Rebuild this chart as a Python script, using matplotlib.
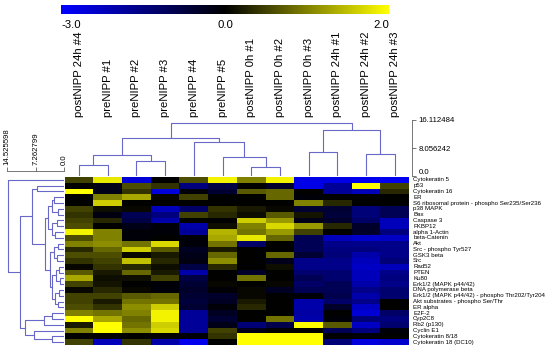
import matplotlib.pyplot as plt
import numpy as np
from matplotlib import transforms
from matplotlib.colors import LinearSegmentedColormap, TwoSlopeNorm

plt.rcParams['font.family'] = ['Liberation Sans', 'DejaVu Sans']

samples = ['postNIPP 24h #4', 'preNIPP #1', 'preNIPP #2', 'preNIPP #3', 'preNIPP #4',
           'preNIPP #5', 'postNIPP 0h #1', 'postNIPP 0h #2', 'postNIPP 0h #3',
           'postNIPP 24h #1', 'postNIPP 24h #2', 'postNIPP 24h #3']

proteins = ['Cytokeratin 5', 'p53', 'Cytokeratin 16', 'ER',
            'S6 ribosomal protein - phospho Ser235/Ser236', 'p38 MAPK', 'Bax',
            'Caspase 3', 'FKBP12', 'alpha 1-Actin', 'beta-Catenin', 'Akt',
            'Src - phospho Tyr527', 'GSK3 beta', 'Src', 'Rad52', 'PTEN', 'Ku80',
            'Erk1/2 (MAPK p44/42)', 'DNA polymerase beta',
            'Erk1/2 (MAPK p44/42) - phospho Thr202/Tyr204',
            'Akt substrates - phospho Ser/Thr', 'ER alpha', 'E2F-2', 'Cyp2C8',
            'Rb2 (p130)', 'Cyclin E1', 'Cytokeratin 8/18', 'Cytokeratin 18 (DC10)']

# log ratios, one row per protein, one column per sample
values = np.array([
    [0.5, 1.8, -2.5, 0.0, 0.6, 1.9, 1.0, 1.9, -2.7, -2.7, -2.8, -2.8],
    [0.0, -0.3, 0.6, 0.4, -1.5, -0.8, 0.0, -0.5, -2.7, -1.8, 2.0, 0.5],
    [2.0, -0.3, 0.4, -2.6, -0.1, -0.6, 0.7, 0.8, 0.0, -1.8, -2.2, 0.3],
    [0.0, 1.0, 1.3, 0.05, 0.5, 0.0, 0.0, 0.8, -0.1, 0.0, 0.0, 0.0],
    [0.0, 1.6, 0.0, 0.0, 0.0, 0.0, 0.0, 0.0, 1.0, 0.3, 0.0, 0.0],
    [0.5, 0.1, 0.05, -2.2, -1.2, 0.4, 0.2, 0.05, -0.6, -0.6, -1.4, -1.0],
    [0.4, -0.2, -1.0, -1.5, 0.5, 0.3, 0.1, 0.7, 0.15, -0.7, -1.4, -1.0],
    [0.5, 0.3, -0.8, -2.0, 0.0, 0.0, 1.6, 1.2, -0.3, -0.5, -1.2, -2.2],
    [0.6, 0.0, -0.3, -0.1, -2.0, 0.1, 1.0, 1.7, 1.2, 0.3, -0.5, -2.2],
    [1.9, 1.0, -0.1, -0.1, -1.8, 1.4, 0.9, 1.2, 0.5, 0.0, -0.5, -1.5],
    [0.6, 1.0, -0.1, 0.0, -0.1, 1.3, 1.8, 0.8, -1.0, -2.2, -2.4, -2.3],
    [1.0, 1.1, 0.9, 1.7, -0.1, 0.9, -1.2, 0.0, -1.0, -1.6, -1.6, -1.6],
    [0.3, 0.8, 1.6, 0.7, -0.4, 0.2, 0.0, 0.0, -1.0, -1.5, -1.5, -1.6],
    [0.6, 0.6, 0.05, 0.2, -0.3, 0.8, 0.0, 0.8, -0.6, -1.4, -2.0, -1.6],
    [0.4, 0.5, 1.5, 0.3, -0.2, 1.1, 0.0, -0.3, -1.6, -1.6, -2.2, -1.4],
    [0.05, 0.4, 0.3, 0.1, -0.8, 0.3, 0.0, 0.1, -1.6, -1.6, -2.3, -2.2],
    [0.7, 0.2, 0.8, 0.2, -2.0, 0.0, -0.5, 0.0, -1.3, -1.3, -2.2, -1.6],
    [1.3, 0.1, 0.1, 0.5, -0.8, 0.0, 0.9, 0.0, -1.0, -1.3, -2.2, -1.5],
    [0.5, 0.15, 0.0, -0.1, -0.6, 0.05, 0.0, 0.05, -1.2, -1.0, -2.0, -1.6],
    [0.05, 0.3, 0.05, -0.1, -0.5, -0.05, 0.05, -0.4, -1.0, -1.0, -1.6, -1.3],
    [0.5, 0.5, 0.7, 0.8, -0.6, -0.5, 0.05, 0.0, -0.1, -0.9, -2.0, -1.3],
    [0.5, 0.2, 0.9, 0.9, -0.7, -0.4, 0.2, 0.0, -2.0, -1.2, -1.6, 0.0],
    [0.6, 0.4, 1.1, 1.6, -0.6, -0.1, 0.3, 0.0, -2.0, -0.5, -2.3, 0.0],
    [1.0, 0.9, 1.0, 1.9, -1.8, -0.4, 0.0, 0.0, -1.9, 0.0, -2.5, -1.2],
    [2.0, 1.3, 0.8, 1.9, -1.8, -0.6, 0.0, 0.9, -2.0, -0.1, -1.4, -1.5],
    [0.2, 2.0, 0.9, 1.6, -1.8, -0.3, -1.4, -0.9, 2.0, 0.7, -2.3, -1.3],
    [1.0, 2.0, 1.1, 1.7, -1.8, 0.5, -0.3, 0.0, 0.0, -1.0, -1.5, -0.1],
    [0.0, 0.0, 0.0, 0.0, -0.1, 0.4, 2.0, 2.0, 2.0, 0.0, -0.1, 0.0],
    [0.5, -2.2, 0.4, -2.0, -2.8, 0.0, 2.0, 2.0, 2.0, -1.4, -2.6, -2.4],
])

# merges (child a, child b, distance); ids >= n refer to earlier merges
col_merges = [(6, 7, 2.8), (5, 12, 5.7), (4, 13, 9.7), (0, 1, 3.3), (2, 3, 4.5),
              (15, 16, 6.2), (17, 14, 11.0), (8, 9, 7.0), (10, 11, 6.5),
              (19, 20, 13.4), (18, 21, 15.3)]
row_merges = [(3, 4, 2.5), (5, 6, 1.6), (29, 30, 3.2), (7, 8, 1.8), (9, 10, 2.2),
              (32, 33, 3.0), (31, 34, 4.2), (11, 12, 1.5), (13, 14, 1.8), (36, 37, 2.6),
              (15, 16, 1.2), (17, 18, 1.0), (39, 40, 2.0), (19, 20, 1.4), (21, 22, 1.6),
              (42, 43, 2.4), (41, 44, 3.0), (38, 45, 3.6), (35, 46, 4.8), (1, 2, 6.8),
              (48, 47, 8.2), (23, 24, 3.0), (50, 25, 5.2), (27, 28, 3.2), (26, 52, 7.8),
              (51, 53, 9.9), (49, 54, 11.2), (0, 55, 14.4)]

col_scale = [0.0, 8.056242, 16.112484]
row_scale = [0.0, 7.262799, 14.525598]

W, H = 550, 351
LINE = '#6868c8'
AXIS = '#606060'


def px_axes(fig, x0, y0, x1, y1):
    return fig.add_axes([x0 / W, 1 - y1 / H, (x1 - x0) / W, (y1 - y0) / H])


def draw_tree(ax, merges, n, horizontal):
    pos = list(np.arange(n) + 0.5)
    hgt = [0.0] * n
    for a, b, h in merges:
        xs = [pos[a], pos[a], pos[b], pos[b]]
        ys = [hgt[a], h, h, hgt[b]]
        if horizontal:
            ax.plot(ys, xs, color=LINE, lw=0.8, solid_capstyle='butt')
        else:
            ax.plot(xs, ys, color=LINE, lw=0.8, solid_capstyle='butt')
        pos.append((pos[a] + pos[b]) / 2)
        hgt.append(h)


cmap = LinearSegmentedColormap.from_list('by', ['#0000ff', '#000000', '#ffff00'])
norm = TwoSlopeNorm(vmin=-3.0, vcenter=0.0, vmax=2.0)

fig = plt.figure(figsize=(W / 100, H / 100), dpi=100)
nr, nc = values.shape
x_left, x_right, y_top, y_bot = 64.7, 409.0, 177.0, 345.0

# heatmap
ax = px_axes(fig, x_left, y_top, x_right, y_bot)
mesh = ax.pcolormesh(np.arange(nc + 1), np.arange(nr + 1), values, cmap=cmap, norm=norm)
ax.set_xlim(0, nc)
ax.set_ylim(nr, 0)
ax.axis('off')
for i, name in enumerate(proteins):
    ax.annotate(name, (nc, i + 0.5), xytext=(3, 0), textcoords='offset points',
                va='center', ha='left', fontsize=4.45, annotation_clip=False)

# sample labels
lab_tr = transforms.blended_transform_factory(ax.transData, fig.transFigure)
for j, name in enumerate(samples):
    ax.text(j + 0.5, 1 - 117 / H, name, transform=lab_tr, rotation=90,
            ha='center', va='bottom', fontsize=8.2)

# column dendrogram
dax = px_axes(fig, x_left, 120.0, x_right, 176.5)
draw_tree(dax, col_merges, nc, horizontal=False)
dax.set_xlim(0, nc)
dax.set_ylim(0, col_scale[-1])
for s in ['top', 'left', 'bottom']:
    dax.spines[s].set_visible(False)
dax.spines['right'].set_position(('outward', 2.5))
dax.spines['right'].set_color(AXIS)
dax.spines['right'].set_linewidth(0.6)
dax.set_xticks([])
dax.set_yticks(col_scale)
dax.set_yticklabels(['0.0', '8.056242', '16.112484'])
dax.tick_params(axis='y', left=False, labelleft=False, right=True, labelright=True,
                direction='out', length=3, width=0.6, color=AXIS, labelsize=5.6, pad=1.5)
dax.get_yticklabels()[0].set_va('bottom')
dax.patch.set_visible(False)

# row dendrogram
rax = px_axes(fig, 7.3, y_top, 64.0, y_bot)
draw_tree(rax, row_merges, nr, horizontal=True)
rax.set_xlim(row_scale[-1], 0)
rax.set_ylim(nr, 0)
for s in ['right', 'left', 'bottom']:
    rax.spines[s].set_visible(False)
rax.spines['top'].set_position(('outward', 4))
rax.spines['top'].set_color(AXIS)
rax.spines['top'].set_linewidth(0.6)
rax.set_yticks([])
rax.set_xticks(row_scale)
rax.set_xticklabels(['0.0', '7.262799', '14.525598'])
rax.tick_params(axis='x', bottom=False, labelbottom=False, top=True, labeltop=True,
                direction='out', length=3, width=0.6, color=AXIS, labelsize=5.6,
                labelrotation=90, pad=1.5)
rax.patch.set_visible(False)

# colour key
cax = px_axes(fig, 61.0, 5.3, 389.0, 14.3)
cb = fig.colorbar(mesh, cax=cax, orientation='horizontal')
cb.set_ticks([])
cb.outline.set_visible(False)
cax.text(0.0, -0.6, '-3.0', transform=cax.transAxes, ha='left', va='top', fontsize=8.2)
cax.text(0.5, -0.6, '0.0', transform=cax.transAxes, ha='center', va='top', fontsize=8.2)
cax.text(1.0, -0.6, '2.0', transform=cax.transAxes, ha='right', va='top', fontsize=8.2)

fig.savefig('out.png', dpi=100)
